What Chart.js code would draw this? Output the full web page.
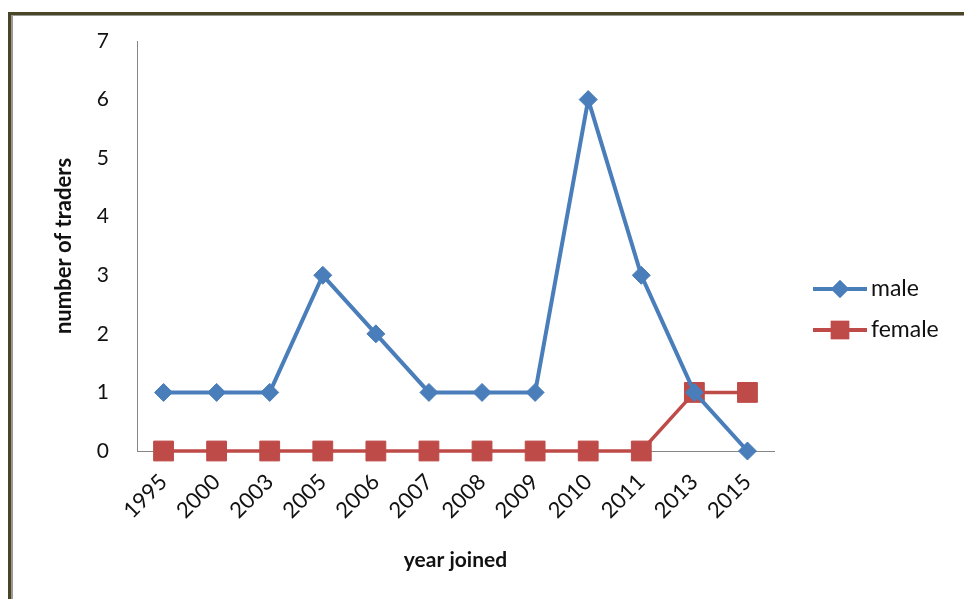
<!DOCTYPE html>
<html>
<head>
<meta charset="utf-8">
<script src="https://cdn.jsdelivr.net/npm/chart.js@4"></script>
<style>
  html, body { margin: 0; padding: 0; background: #fff; }
  #wrap { position: relative; width: 964px; height: 599px; }
</style>
</head>
<body>
<div id="wrap"><canvas id="tradersChart" width="964" height="599"></canvas></div>
<script>
// year each trader joined, split by sex
const years = ['1995', '2000', '2003', '2005', '2006', '2007', '2008', '2009', '2010', '2011', '2013', '2015'];
const male = [1, 1, 1, 3, 2, 1, 1, 1, 6, 3, 1, 0];
const female = [0, 0, 0, 0, 0, 0, 0, 0, 0, 0, 1, 1];

const BLUE = '#4a7ebb';
const RED = '#be4b48';
const FONT = 'Lato, "Open Sans", sans-serif';

// window-style frame round the chart (dark top and left edges)
const framePlugin = {
  id: 'frame',
  beforeDraw(chart) {
    const c = chart.ctx;
    c.save();
    c.fillStyle = '#fff';
    c.fillRect(0, 0, chart.width, chart.height);
    c.fillStyle = '#4b4528';
    c.fillRect(8, 12, chart.width - 8, 3);
    c.fillRect(8, 12, 3, chart.height - 12);
    c.fillStyle = '#9a9a96';
    c.fillRect(11, 15, chart.width - 11, 1);
    c.fillRect(11, 15, 2, chart.height - 15);
    c.restore();
  }
};

// legend on the right: line with marker, then label
const sideLegend = {
  id: 'sideLegend',
  afterDraw(chart) {
    const c = chart.ctx;
    const items = [
      { label: 'male', color: BLUE, style: 'rectRot', radius: 9, y: 289 },
      { label: 'female', color: RED, style: 'rect', radius: 13, y: 330 }
    ];
    c.save();
    items.forEach(it => {
      c.strokeStyle = it.color;
      c.lineWidth = 4;
      c.beginPath();
      c.moveTo(813, it.y);
      c.lineTo(867, it.y);
      c.stroke();
      c.fillStyle = it.color;
      Chart.helpers.drawPoint(c, { pointStyle: it.style, radius: it.radius, borderWidth: 0 }, 840, it.y);
      c.fill();
      c.fillStyle = '#111';
      c.font = '23px ' + FONT;
      c.textBaseline = 'middle';
      c.fillText(it.label, 871, it.y);
    });
    c.restore();
  }
};

const ctx = document.getElementById('tradersChart').getContext('2d');

new Chart(ctx, {
  type: 'line',
  data: {
    labels: years,
    datasets: [
      {
        label: 'male',
        data: male,
        borderColor: BLUE,
        backgroundColor: BLUE,
        borderWidth: 4,
        pointStyle: 'rectRot',
        pointRadius: 9,
        pointBorderWidth: 1,
        tension: 0,
        clip: false
      },
      {
        label: 'female',
        data: female,
        borderColor: RED,
        backgroundColor: RED,
        borderWidth: 3.5,
        pointStyle: 'rect',
        pointRadius: 14,
        pointBorderWidth: 1,
        tension: 0,
        clip: false
      }
    ]
  },
  options: {
    responsive: false,
    animation: false,
    layout: { padding: { left: 47, right: 190, top: 41, bottom: 22 } },
    plugins: {
      legend: { display: false },
      tooltip: { enabled: false }
    },
    scales: {
      x: {
        offset: true,
        grid: { display: false, drawTicks: false },
        border: { color: '#868686', width: 1 },
        ticks: {
          color: '#111',
          font: { family: FONT, size: 22 },
          minRotation: 45,
          maxRotation: 45,
          padding: 18
        },
        title: {
          display: true,
          text: 'year joined',
          color: '#111',
          font: { family: FONT, size: 21, weight: 'bold' }
        },
        afterFit(scale) { scale.height = 126; }
      },
      y: {
        min: 0,
        max: 7,
        grid: { display: false, drawTicks: false },
        border: { color: '#868686', width: 1 },
        ticks: {
          stepSize: 1,
          color: '#111',
          font: { family: FONT, size: 21 },
          padding: 28
        },
        title: {
          display: true,
          text: 'number of traders',
          color: '#111',
          font: { family: FONT, size: 22, weight: 'bold' }
        },
        afterFit(scale) { scale.width = 90; }
      }
    }
  },
  plugins: [framePlugin, sideLegend]
});
</script>
</body>
</html>
